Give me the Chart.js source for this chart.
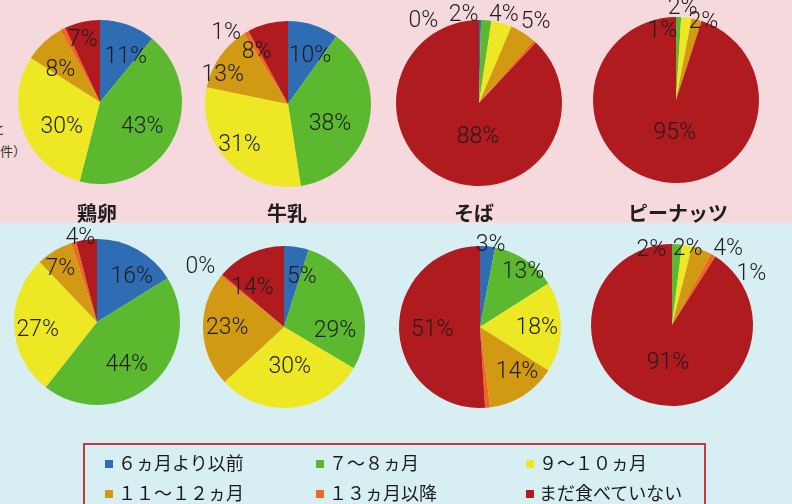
<!DOCTYPE html>
<html><head><meta charset="utf-8">
<script src="https://cdn.jsdelivr.net/npm/chart.js@4"></script>
<style>
html,body{margin:0;padding:0;}
body{width:792px;height:504px;position:relative;overflow:hidden;background:#d7eef3;font-family:"Noto Sans CJK JP",sans-serif;}
#topbg{position:absolute;left:0;top:0;width:792px;height:223px;background:#f6d9dd;}
.pie{position:absolute;}
.title{position:absolute;top:200px;width:140px;margin-left:-70px;text-align:center;font-size:20px;line-height:26px;font-weight:700;color:#1e1e1e;}
#legend{position:absolute;left:83px;top:443px;width:623px;height:90px;border:2px solid #c83a40;box-sizing:border-box;}
.li{position:absolute;font-size:18px;line-height:22px;color:#1a1a1a;white-space:nowrap;}
.sw{display:inline-block;width:8px;height:8px;margin-right:5px;vertical-align:2px;}
.frag{position:absolute;font-size:13px;color:#333;white-space:nowrap;}
</style></head>
<body>
<div id="topbg"></div>
<div class="frag" style="left:-8px;top:119px;">と</div>
<div class="frag" style="left:-13px;top:141px;">（件）</div>
<div id="charts"></div>
<div id="legend"></div>
<script>
// ---- data ----
const CATEGORIES = ['６ヵ月より以前','７～８ヵ月','９～１０ヵ月','１１～１２ヵ月','１３ヵ月以降','まだ食べていない'];
const COLORS = ['#2e6cb3','#5cb82f','#eee824','#d19a12','#ee6820','#b01b1f'];
const FOODS = ['鶏卵','牛乳','そば','ピーナッツ'];
// upper row
const TOP_EGG    = [11,43,30,8,1,7];
const TOP_MILK   = [10,38,31,13,1,8];
const TOP_SOBA   = [0.4,2,4,5,0.6,88];
const TOP_PEANUT = [0,1,2,2,0,95];
// lower row
const BOT_EGG    = [16,44,27,7,1,4];
const BOT_MILK   = [5,29,30,23,0.4,14];
const BOT_SOBA   = [3,13,18,14,1,51];
const BOT_PEANUT = [0,2,2,4,1,91];

// ---- layout (positions / label placement) ----
const PIES = [
  {data:TOP_EGG,    cx:100, cy:102, r:82, lab:[[0.63,10],[0.6,4],[0.56,-12],[0.62,-8],null,[0.78,-3]]},
  {data:TOP_MILK,   cx:288, cy:104, r:83, lab:[[0.63,7],[0.56,12],[0.77,3],[0.86,-11],[1.13,-11],[0.73,-17]]},
  {data:TOP_SOBA,   cx:479, cy:103, r:83, lab:[[1.19,-35],[1.07,-15],[1.1,0],[1.19,3],null,[0.41,-20]]},
  {data:TOP_PEANUT, cx:676, cy:100, r:83, lab:[null,[0.84,-13],[1.11,-3],[0.99,5],null,[0.40,-7]]},
  {data:BOT_EGG,    cx:97,  cy:322, r:83, lab:[[0.68,9],[0.63,7],[0.72,-5],[0.77,-4],null,[1.03,-4]]},
  {data:BOT_MILK,   cx:284, cy:327, r:81, lab:[[0.65,11],[0.63,25],[0.5,-2],[0.7,1],[1.27,-4],[0.62,-14]]},
  {data:BOT_SOBA,   cx:480, cy:327, r:81, lab:[[1.02,2],[0.86,4],[0.7,1],[0.72,-7],null,[0.59,-2]]},
  {data:BOT_PEANUT, cx:672, cy:325, r:81, lab:[null,[0.96,-19],[0.95,1],[1.16,15],[1.16,27],[0.47,-10]]}
];
const TITLE_X = [97,287,474,678];
const HALF = 125;

const labelPlugin = {
  id:'pctLabels',
  afterDatasetsDraw(chart){
    const ctx = chart.ctx;
    const lab = chart.options.plugins.pctLabels.lab;
    const meta = chart.getDatasetMeta(0);
    const vals = chart.data.datasets[0].data;
    ctx.save();
    ctx.font = '300 23px Roboto, "Liberation Sans", sans-serif';
    ctx.fillStyle = '#1e1e1e';
    ctx.textAlign = 'center';
    ctx.textBaseline = 'middle';
    meta.data.forEach((arc,i)=>{
      const spec = lab[i];
      if(!spec) return;
      const p = arc.getProps(['x','y','startAngle','endAngle','outerRadius'], true);
      const a = (p.startAngle + p.endAngle)/2 + spec[1]*Math.PI/180;
      const rr = p.outerRadius*spec[0];
      ctx.fillText(Math.round(vals[i])+'%', p.x + rr*Math.cos(a), p.y + rr*Math.sin(a));
    });
    ctx.restore();
  }
};

const host = document.getElementById('charts');
PIES.forEach(pie=>{
  const div = document.createElement('div');
  div.className='pie';
  div.style.left=(pie.cx-HALF)+'px';
  div.style.top=(pie.cy-HALF)+'px';
  const cv = document.createElement('canvas');
  cv.width=HALF*2; cv.height=HALF*2;
  cv.style.width=HALF*2+'px'; cv.style.height=HALF*2+'px';
  div.appendChild(cv);
  host.appendChild(div);
  new Chart(cv,{
    type:'pie',
    data:{labels:CATEGORIES,datasets:[{data:pie.data,backgroundColor:COLORS,borderWidth:0}]},
    options:{
      responsive:false,animation:false,events:[],
      layout:{padding:HALF-pie.r},
      plugins:{legend:{display:false},tooltip:{enabled:false},pctLabels:{lab:pie.lab}}
    },
    plugins:[labelPlugin]
  });
});

FOODS.forEach((f,i)=>{
  const d=document.createElement('div');
  d.className='title'; d.textContent=f; d.style.left=TITLE_X[i]+'px';
  document.body.appendChild(d);
});

const legend=document.getElementById('legend');
const COLX=[20,231,441], ROWY=[6,36];
CATEGORIES.forEach((c,i)=>{
  const d=document.createElement('div');
  d.className='li';
  d.style.left=COLX[i%3]+'px'; d.style.top=ROWY[Math.floor(i/3)]+'px';
  d.innerHTML='<span class="sw" style="background:'+COLORS[i]+'"></span>'+c;
  legend.appendChild(d);
});
</script>
</body></html>
